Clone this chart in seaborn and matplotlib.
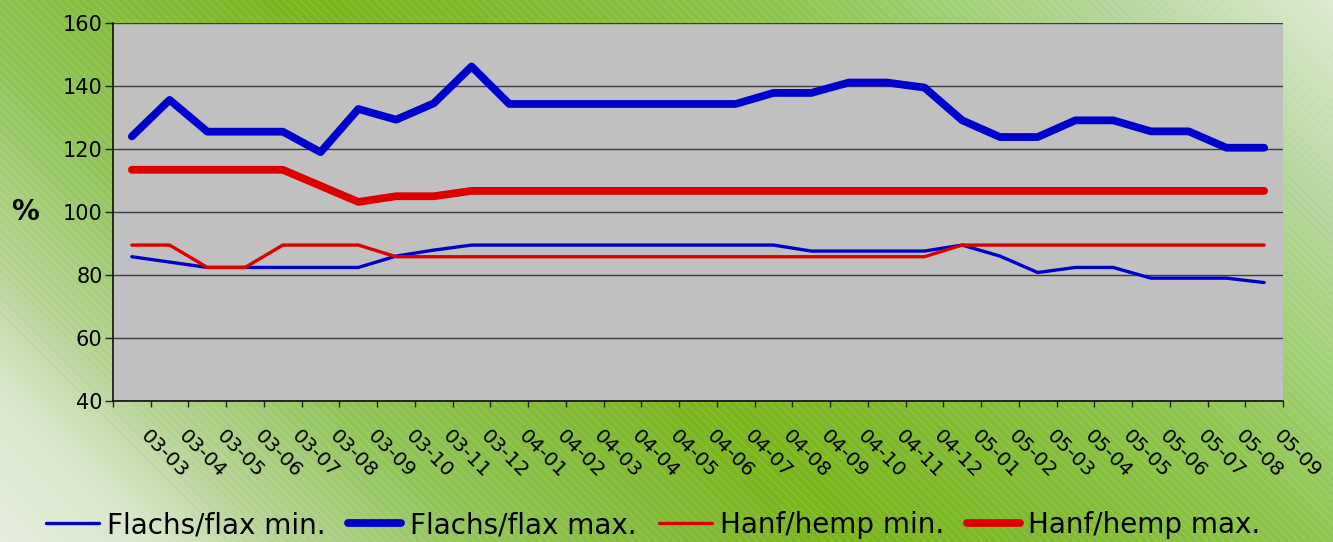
import matplotlib
matplotlib.use("Agg")
import matplotlib.pyplot as plt
from matplotlib.colors import LinearSegmentedColormap
from matplotlib.patches import Rectangle
from matplotlib.transforms import ScaledTranslation
import seaborn as sns
import pandas as pd
import numpy as np

# --- data ---
categories = ['03-03', '03-04', '03-05', '03-06', '03-07', '03-08', '03-09', '03-10', '03-11', '03-12',
              '04-01', '04-02', '04-03', '04-04', '04-05', '04-06', '04-07', '04-08', '04-09', '04-10',
              '04-11', '04-12',
              '05-01', '05-02', '05-03', '05-04', '05-05', '05-06', '05-07', '05-08', '05-09']

flax_min = [85.8, 84.1, 82.4, 82.4, 82.4, 82.4, 82.4, 86.0, 87.9, 89.5,
            89.5, 89.5, 89.5, 89.5, 89.5, 89.5, 89.5, 89.5, 87.6, 87.6,
            87.6, 87.6,
            89.5, 86.0, 80.8, 82.4, 82.4, 79.0, 79.0, 79.0, 77.6]
flax_max = [124.0, 135.6, 125.5, 125.5, 125.5, 119.0, 132.7, 129.3, 134.5, 146.2,
            134.3, 134.3, 134.3, 134.3, 134.3, 134.3, 134.3, 137.8, 137.8, 141.1,
            141.1, 139.5,
            129.1, 123.8, 123.8, 129.1, 129.1, 125.6, 125.6, 120.4, 120.4]
hemp_min = [89.5, 89.5, 82.4, 82.4, 89.5, 89.5, 89.5, 85.8, 85.8, 85.8,
            85.8, 85.8, 85.8, 85.8, 85.8, 85.8, 85.8, 85.8, 85.8, 85.8,
            85.8, 85.8,
            89.5, 89.5, 89.5, 89.5, 89.5, 89.5, 89.5, 89.5, 89.5]
hemp_max = [113.4, 113.4, 113.4, 113.4, 113.4, 108.3, 103.2, 105.0, 105.0, 106.7,
            106.7, 106.7, 106.7, 106.7, 106.7, 106.7, 106.7, 106.7, 106.7, 106.7,
            106.7, 106.7,
            106.7, 106.7, 106.7, 106.7, 106.7, 106.7, 106.7, 106.7, 106.7]

series_names = ['Flachs/flax min.', 'Flachs/flax max.', 'Hanf/hemp min.', 'Hanf/hemp max.']
y_ticks = [40, 60, 80, 100, 120, 140, 160]

df = pd.DataFrame({'period': categories,
                   series_names[0]: flax_min,
                   series_names[1]: flax_max,
                   series_names[2]: hemp_min,
                   series_names[3]: hemp_max})
df['pos'] = np.arange(len(df))

# --- style ---
sns.set_theme(style="white")
plt.rcParams['font.family'] = ['DejaVu Sans']
plt.rcParams['hatch.linewidth'] = 0.6

fig = plt.figure(figsize=(13.33, 5.42), dpi=100)

# green gradient background (45 degree bands) with fine diagonal stripes
bg = fig.add_axes([0, 0, 1, 1], zorder=-10)
px, py = np.meshgrid(np.arange(1333), np.arange(542))
grad = (px - py + 542) / (1333 + 542)
bg_cmap = LinearSegmentedColormap.from_list('bg', [
    (0.0, '#E6EEDD'), (0.08, '#D8E7CA'), (0.15, '#B5D393'), (0.25, '#92C55A'),
    (0.35, '#84BC3C'), (0.45, '#7AB51C'), (0.55, '#80BA2E'), (0.7, '#8DC64E'),
    (0.8, '#A3D077'), (0.88, '#B4D69A'), (1.0, '#DCEAD0')])
bg.imshow(grad, cmap=bg_cmap, extent=[0, 1, 0, 1], aspect='auto', origin='upper')
bg.add_patch(Rectangle((0, 0), 1, 1, transform=bg.transAxes, facecolor='none',
                       edgecolor=(1, 1, 1, 0.16), linewidth=0, hatch='\\\\\\\\'))
bg.set_axis_off()

ax = fig.add_axes([113 / 1333, 1 - 401 / 542, 1170 / 1333, 378 / 542])
ax.set_facecolor('#C0C0C0')

colors = ['#0000CC', '#0000CC', '#DD0000', '#DD0000']
widths = [2.4, 5.6, 2.4, 5.6]
for name, col, lw in zip(series_names, colors, widths):
    sns.lineplot(data=df, x='pos', y=name, ax=ax, color=col, linewidth=lw,
                 label=name, legend=False, solid_capstyle='round', solid_joinstyle='round')

ax.set_xlim(-0.5, len(categories) - 0.5)
ax.set_ylim(40, 160)
ax.set_yticks(y_ticks)
ax.yaxis.grid(True, color='#3C3C3C', linewidth=1.0)
ax.xaxis.grid(False)
ax.set_axisbelow(True)

for s in ['top', 'right']:
    ax.spines[s].set_visible(False)
for s in ['left', 'bottom']:
    ax.spines[s].set_color('black')
    ax.spines[s].set_linewidth(1.1)

ax.set_xticks(df['pos'])
ax.set_xticklabels(categories)
ax.set_xticks(np.arange(len(categories) + 1) - 0.5, minor=True)
ax.tick_params(axis='x', which='major', length=0, pad=23, labelsize=14.5, labelcolor='black')
ax.tick_params(axis='x', which='minor', bottom=True, length=4.5, width=1.0, color='#222222')
ax.tick_params(axis='y', which='major', left=True, length=6, width=1.0, color='#222222',
               pad=1.5, labelsize=15, labelcolor='black')
plt.setp(ax.get_xticklabels(), rotation=-45, ha='left', va='center', rotation_mode='anchor')

ax.set_xlabel('')
ax.set_ylabel('%', rotation=0, fontsize=20, fontweight='bold', color='black', va='center', ha='center')
ax.yaxis.set_label_coords(-0.075, 0.5)

# legend along the bottom
handles, labels = ax.get_legend_handles_labels()
fig.legend(handles, labels, loc='center', bbox_to_anchor=(0.49, 0.031), ncol=4, frameon=False,
           fontsize=20, labelcolor='black', handlelength=1.9, handletextpad=0.3,
           columnspacing=0.82, borderpad=0)

# nudge the rotated date labels a little to the right, like the original
fig.canvas.draw()
shift = ScaledTranslation(0.12, 0, fig.dpi_scale_trans)
for lab in ax.get_xticklabels():
    lab.set_transform(lab.get_transform() + shift)

fig.savefig('out.png', dpi=100)
